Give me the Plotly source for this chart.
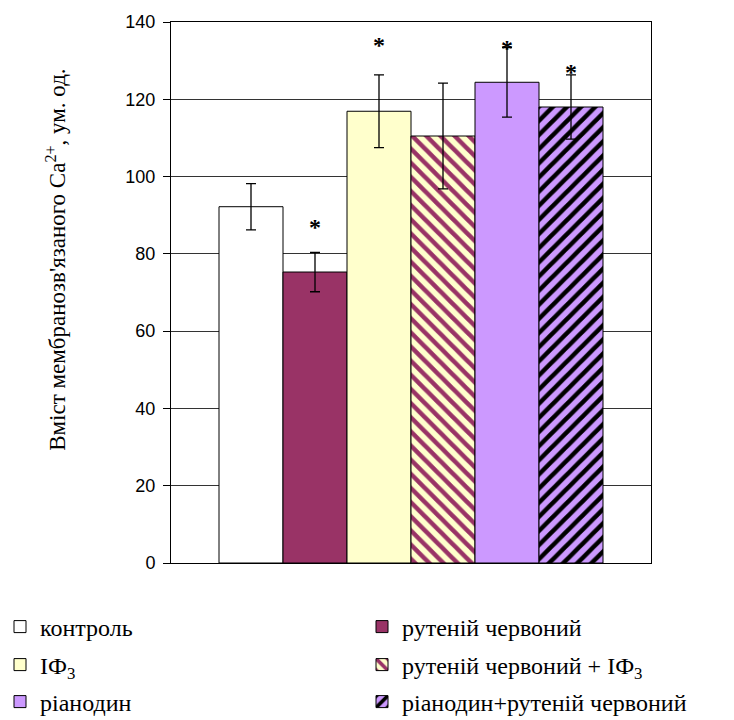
import plotly.graph_objects as go

groups = ["контроль", "рутеній червоний", "ІФ<sub>3</sub>", "рутеній червоний + ІФ<sub>3</sub>",
          "ріанодин", "ріанодин+рутеній червоний"]
values = [92.2, 75.3, 116.9, 110.5, 124.4, 118.0]
errors = [6.0, 5.1, 9.4, 13.7, 9.0, 8.3]
star_y = [None, 86.2, 133.4, None, 132.4, 126.4]
colors = ["#FFFFFF", "#993366", "#FFFFCC", "#FFFFCC", "#CC99FF", "#CC99FF"]
patterns = ["", "", "", "\\", "", "/"]
pattern_fg = [None, None, None, "#993366", None, "#000000"]
# legend layout: two columns, three rows (container fractions)
legend_col_x = [0.0, 0.4932]
legend_row_y = [1 - 627 / 720, 1 - 665 / 720, 1 - 702 / 720]

SERIF = "Liberation Serif"

fig = go.Figure()
legend_layout = {}
for i, name in enumerate(groups):
    lid = "legend" if i == 0 else f"legend{i + 1}"
    marker = dict(color=colors[i], line=dict(color="black", width=1))
    if patterns[i]:
        marker["pattern"] = dict(shape=patterns[i], fgcolor=pattern_fg[i], bgcolor=colors[i],
                                 size=10, solidity=0.45, fillmode="overlay", fgopacity=1)
    fig.add_trace(go.Bar(
        x=[0], y=[values[i]], name=name, marker=marker, legend=lid,
        error_y=dict(type="data", array=[errors[i]], color="black", thickness=1.3, width=5),
        offsetgroup=str(i),
    ))
    legend_layout[lid] = dict(
        orientation="h", xref="container", yref="container",
        x=legend_col_x[i % 2], y=legend_row_y[i // 2], xanchor="left", yanchor="middle",
        entrywidth=300, entrywidthmode="pixels",
        font=dict(family=SERIF, size=24, color="black"),
        bgcolor="rgba(0,0,0,0)", itemwidth=30,
    )

for i, sy in enumerate(star_y):
    if sy is None:
        continue
    fig.add_annotation(x=-0.4 + 0.8 / 6 * (i + 0.5), y=sy, xref="x", yref="y",
                       text="<b>*</b>", showarrow=False, yanchor="middle", yshift=3,
                       font=dict(family=SERIF, size=24, color="black"))

fig.add_annotation(xref="paper", yref="paper", x=-0.24, y=0.56,
                   text="Вміст мембранозв'язаного Ca<sup>2+</sup>, ум. од.",
                   textangle=-90, showarrow=False, xanchor="center", yanchor="middle",
                   font=dict(family=SERIF, size=23, color="black"))

fig.update_layout(
    width=734, height=720,
    margin=dict(l=171, r=83, t=17, b=157),
    paper_bgcolor="white", plot_bgcolor="white",
    font=dict(family=SERIF, size=24, color="black"),
    barmode="group", bargap=0.2, bargroupgap=0,
    showlegend=True,
    **legend_layout,
    xaxis=dict(range=[-0.5, 0.5], showticklabels=False, ticks="", showgrid=False, zeroline=False,
               showline=True, linecolor="black", linewidth=1, mirror=True, fixedrange=True),
    yaxis=dict(range=[0, 140], dtick=20, tick0=0, showgrid=True, gridcolor="#333333", gridwidth=1,
               zeroline=False, showline=True, linecolor="black", linewidth=1, mirror=True,
               ticks="outside", ticklen=7, tickcolor="black", ticklabelstandoff=4,
               tickfont=dict(family="Liberation Sans", size=18, color="black")),
)

fig.write_html("out.html")
